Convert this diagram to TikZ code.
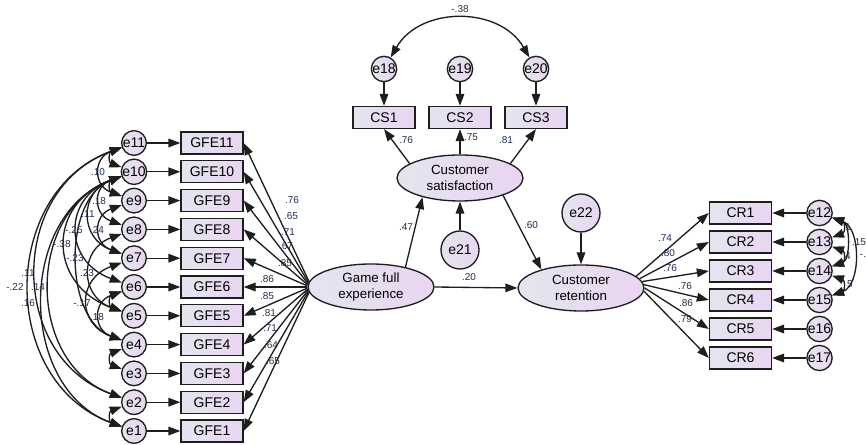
\documentclass[tikz,border=0pt]{standalone}
\usepackage{fontspec}
\setmainfont{Liberation Sans}
\usepackage{tikz}
\usetikzlibrary{arrows.meta,shapes.geometric}
\definecolor{amosInk}{HTML}{1E1E1E}
\definecolor{amosLabel}{HTML}{1F2D4D}
\definecolor{amosLeft}{HTML}{E3E5EE}
\definecolor{amosRight}{HTML}{EAD5F2}
\tikzset{
  observed/.style={
    rectangle,
    draw=amosInk,
    line width=1pt,
    left color=amosLeft,
    right color=amosRight,
    minimum width=46.5pt,
    minimum height=16.5pt,
    inner sep=0pt,
    font=\fontsize{10.5}{11}\selectfont
  },
  latent/.style={
    ellipse,
    draw=amosInk,
    line width=1pt,
    left color=amosLeft,
    right color=amosRight,
    minimum width=94.5pt,
    minimum height=34.5pt,
    inner sep=0pt,
    align=center,
    font=\fontsize{10}{11.5}\selectfont
  },
  errsmall/.style={
    circle,
    draw=amosInk,
    line width=1pt,
    left color=amosLeft,
    right color=amosRight,
    minimum size=18.5pt,
    inner sep=0pt,
    font=\fontsize{10.5}{11}\selectfont
  },
  errbig/.style={errsmall,minimum size=28.5pt},
  arrow/.style={
    -{Triangle[length=9pt,width=6.5pt]},
    line width=1pt,
    draw=amosInk
  },
  covArrow/.style={
    {Triangle[length=9pt,width=6.5pt]}-{Triangle[length=9pt,width=6.5pt]},
    line width=1pt,
    draw=amosInk
  },
  coef/.style={
    inner sep=0pt,
    text=amosLabel,
    font=\fontsize{7.5}{8}\selectfont
  }
}

\begin{document}
\begin{tikzpicture}[x=0.75pt,y=0.75pt]
  \useasboundingbox (0,0) rectangle (866,445);
  % latent variables
  \node[latent] (game) at (371,158) {Game full\\experience};
  \node[latent] (satis) at (460,267) {Customer\\satisfaction};
  \node[latent] (reten) at (581,157) {Customer\\retention};
  \node[errbig] (e21) at (460,195) {e21};
  \node[errbig] (e22) at (581,232) {e22};
  % game full experience items
  \foreach \i in {1,...,11}{
    \pgfmathsetmacro\yy{14+(\i-1)*28.8}
    \pgfmathtruncatemacro\ang{175+(11-\i)}
    \node[observed] (gfe\i) at (212,\yy) {GFE\i};
    \node[errsmall] (e\i) at (134,\yy) {e\i};
    \draw[arrow] (e\i) -- (gfe\i);
    \draw[arrow] (game.\ang) -- (gfe\i.east);
  }
  % satisfaction items
  \foreach \k/\n/\xx in {1/18/384,2/19/460,3/20/536}{
    \node[observed] (cs\k) at (\xx,327.5) {CS\k};
    \node[errsmall] (e\n) at (\xx,376) {e\n};
    \draw[arrow] (e\n) -- (cs\k);
  }
  \draw[arrow] (satis.164) -- (cs1.south);
  \draw[arrow] (satis.north) -- (cs2.south);
  \draw[arrow] (satis.16) -- (cs3.south);
  % retention items
  \foreach \k in {1,...,6}{
    \pgfmathsetmacro\yy{232-(\k-1)*29}
    \pgfmathtruncatemacro\n{\k+11}
    \pgfmathtruncatemacro\ang{mod(372-(\k-1)*3,360)}
    \node[observed] (cr\k) at (740.5,\yy) {CR\k};
    \node[errsmall] (e\n) at (819.5,\yy) {e\n};
    \draw[arrow] (e\n) -- (cr\k);
    \draw[arrow] (reten.\ang) -- (cr\k.west);
  }
  % structural paths
  \draw[arrow] (game.30) -- (satis.207);
  \draw[arrow] (satis.338) -- (reten.155);
  \draw[arrow] (game.east) -- (reten.west);
  \draw[arrow] (e21) -- (satis);
  \draw[arrow] (e22) -- (reten);
  % covariances
  \draw[covArrow] (e18) to[out=60,in=120,looseness=1.1] (e20);
  \foreach \a/\b/\l in {11/10/1.8,10/9/1.8,6/5/1.8,4/3/1.8,2/1/1.8,
      11/9/1.61,10/8/1.61,9/7/1.61,6/4/1.61,10/7/1.49,8/5/1.49,7/4/1.58,
      10/6/1.5,10/5/1.5,10/4/0.97,11/1/1.2,11/2/1.24,10/1/1.14,10/2/1.18}
    \draw[covArrow] (e\a) to[out=200,in=160,looseness=\l] (e\b);
  \foreach \a/\b/\l in {12/13/1.8,13/14/1.8,14/15/1.8,12/14/1.03,12/15/1.02}
    \draw[covArrow] (e\a) to[out=340,in=20,looseness=\l] (e\b);
  % coefficients
  \foreach \i/\lx/\ly/\v in {11/292/245/.76,10/291/229/.65,9/288/213/.71,
      8/286/199/.67,7/285/182/.85,6/267/166/.86,5/267/149/.85,4/269/132/.81,
      3/270/117/.71,2/271/100/.64,1/273/84/.65}
    \node[coef] (lg\i) at (\lx,\ly) {\v};
  \foreach \i/\lx/\ly/\v in {1/665/207/.74,2/668/192/.80,3/670/177/.76,
      4/685/159/.76,5/686/142/.86,6/685/126/.79}
    \node[coef] (lr\i) at (\lx,\ly) {\v};
  \foreach \i/\lx/\ly/\v in {1/406/305/.76,2/471/308/.75,3/506/305/.81}
    \node[coef] (ls\i) at (\lx,\ly) {\v};
  \node[coef] (lgs) at (406,218) {.47};
  \node[coef] (lsr) at (531,220) {.60};
  \node[coef] (lgr) at (469,168) {.20};
  \node[coef] (ltop) at (460,436) {-.38};
  \foreach \i/\lx/\ly/\v in {1/98/273/.10,2/99/244/.18,3/88/231/.11,
      4/74/215/-.25,5/97/215/.24,6/62/201/-.38,7/75/187/-.23,8/87/172/.23,
      9/28/172/.11,10/15/158/-.22,11/38/158/.14,12/28/142/.16,13/82/142/-.17,
      14/97/128/.18}
    \node[coef] (lc\i) at (\lx,\ly) {\v};
  \foreach \i/\lx/\ly/\v in {1/848/218/1,2/859/203/.15,3/848/189/4,
      4/863/189/-.,5/850/161/5}
    \node[coef] (lq\i) at (\lx,\ly) {\v};
\end{tikzpicture}
\end{document}
